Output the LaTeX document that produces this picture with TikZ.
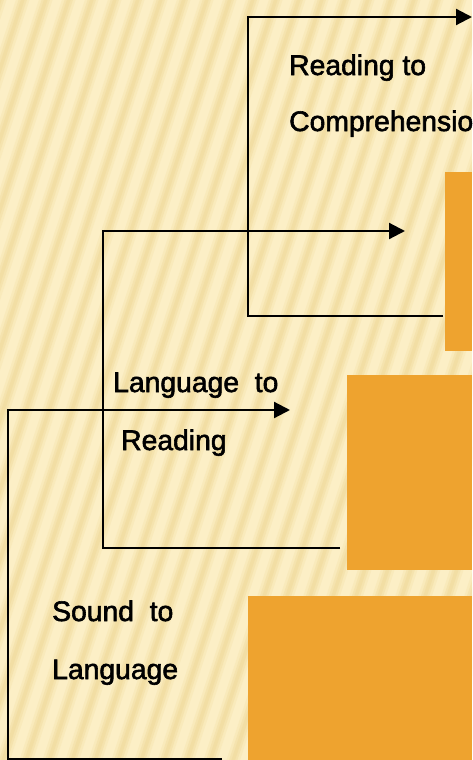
\documentclass[tikz,border=0pt]{standalone}
\usepackage{fontspec}
\setmainfont{Liberation Sans}[BoldFont={Liberation Sans},BoldFeatures={FakeBold=2}]
\usetikzlibrary{arrows.meta}
\definecolor{bgpale}{RGB}{252,239,198}
\definecolor{stripe}{RGB}{238,214,146}
\definecolor{boxorange}{RGB}{238,163,47}
\tikzset{
  px/.style={x=1pt,y=-1pt},
  stripewide/.style={line width=13pt,stripe,opacity=0.2},
  stripeline/.style={line width=8pt,stripe,opacity=0.3},
  stripecore/.style={line width=3.5pt,stripe,opacity=0.35},
  orangebox/.style={fill=boxorange,draw=none,anchor=north west,inner sep=0pt,outer sep=0pt},
  lbl/.style={anchor=base west,inner sep=0pt,font=\fontsize{28.3}{30}\selectfont\bfseries,text=black},
  conn/.style={line width=2.2pt,black,line join=miter},
  arr/.style={conn,-{Triangle[length=16pt,width=16pt]}}
}
\begin{document}
\begin{tikzpicture}[px]
\useasboundingbox (0,0) rectangle (472,760);
\fill[bgpale] (0,0) rectangle (472,760);
\begin{scope}
\clip (0,0) rectangle (472,760);
\foreach \i in {-13,...,22} {
  \draw[stripewide] (\i*23,770) -- ++(256,-780);
  \draw[stripeline] (\i*23,770) -- ++(256,-780);
  \draw[stripecore] (\i*23,770) -- ++(256,-780);
}
\end{scope}
% orange boxes
\node[orangebox,minimum width=27pt,minimum height=179pt] (b1) at (445,172) {};
\node[orangebox,minimum width=125pt,minimum height=195pt] (b2) at (347,375) {};
\node[orangebox,minimum width=224pt,minimum height=164pt] (b3) at (248,596) {};
% corner coordinates
\coordinate (c3s) at (443,316);
\coordinate (c3b) at (248,316);
\coordinate (c3t) at (248,17);
\coordinate (c3e) at (472,17);
\coordinate (c2s) at (340,548);
\coordinate (c2b) at (103,548);
\coordinate (c2t) at (103,231);
\coordinate (c2e) at (405,231);
\coordinate (c1s) at (222,759);
\coordinate (c1b) at (8,759);
\coordinate (c1t) at (8,410);
\coordinate (c1e) at (290,410);
% connectors
\draw[arr] (c1s) -- (c1b) -- (c1t) -- (c1e);
\draw[arr] (c2s) -- (c2b) -- (c2t) -- (c2e);
\draw[arr] (c3s) -- (c3b) -- (c3t) -- (c3e);
% labels
\node[lbl] (t3a) at (289,75) {Reading to};
\node[lbl] (t3b) at (289,131) {Comprehensio};
\node[lbl] (t2a) at (113,392) {Language\ \ to};
\node[lbl] (t2b) at (121,450) {Reading};
\node[lbl] (t1a) at (52,621) {Sound\ \ to};
\node[lbl] (t1b) at (52,679) {Language};
\end{tikzpicture}
\end{document}
